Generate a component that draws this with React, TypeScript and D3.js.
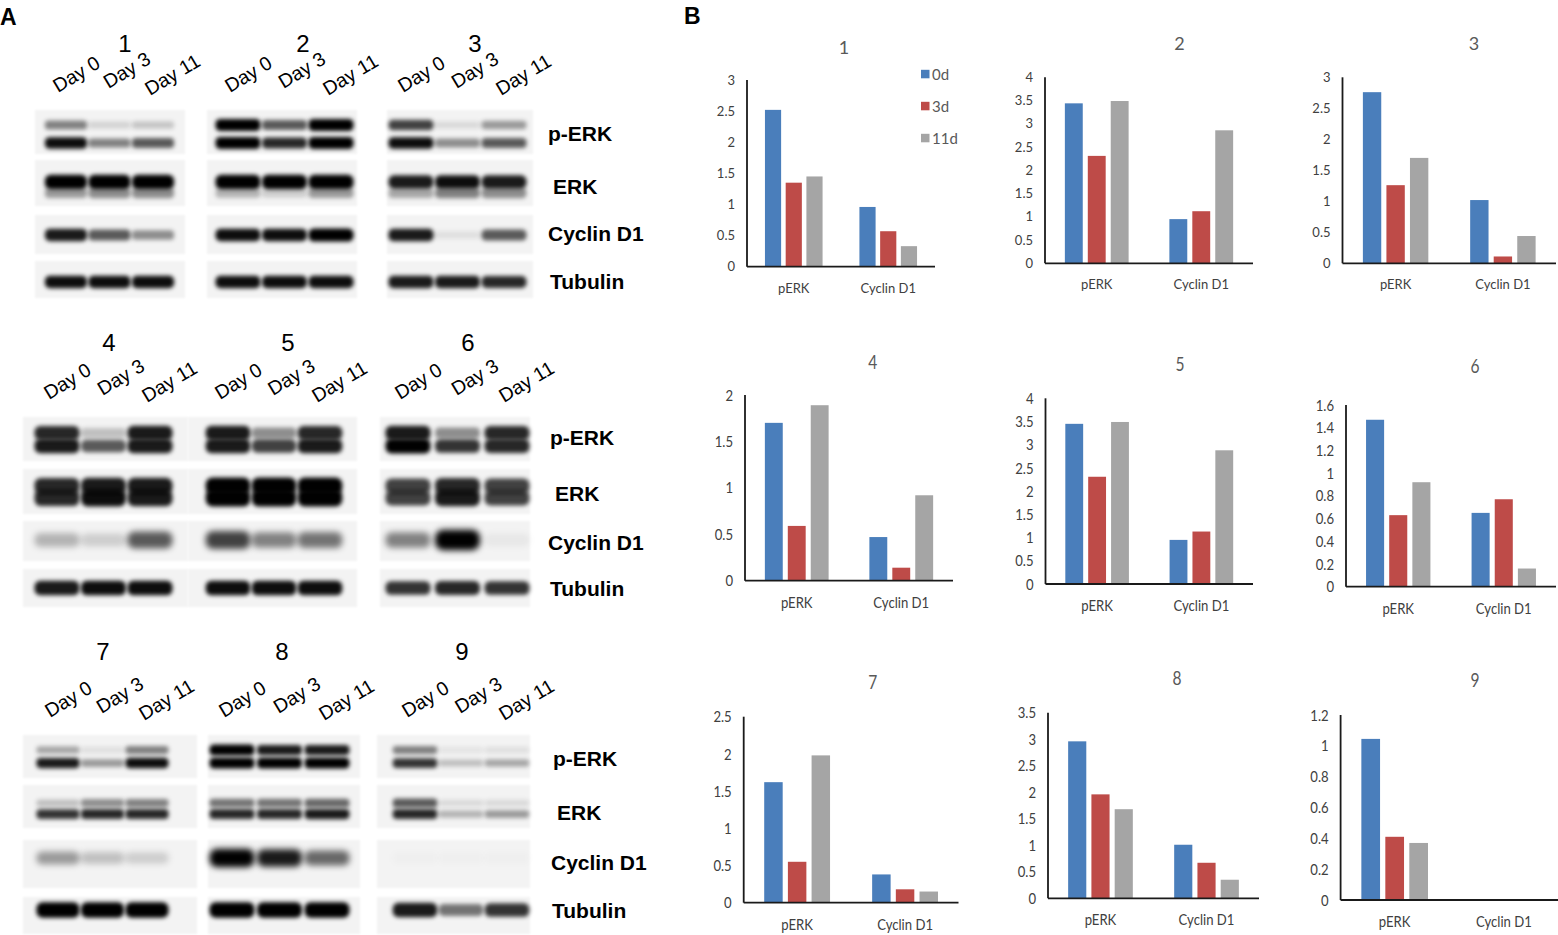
import React from 'react';
import * as d3 from 'd3';

// ---------- panel A : western blots ----------
const groups = ['1', '2', '3', '4', '5', '6', '7', '8', '9'];
const lanes = ['Day 0', 'Day 3', 'Day 11'];
const proteins = ['p-ERK', 'ERK', 'Cyclin D1', 'Tubulin'];

// band darkness 0..1 per group, lanes Day 0 / Day 3 / Day 11
const pErkUpper = [[0.45, 0.12, 0.18], [1, 0.6, 1], [0.7, 0.1, 0.35], [0.8, 0.2, 0.85], [0.85, 0.4, 0.8], [0.85, 0.4, 0.8], [0.3, 0.08, 0.45], [1, 0.85, 0.85], [0.45, 0.06, 0.08]];
const pErkLower = [[0.9, 0.45, 0.6], [1, 0.8, 1], [0.9, 0.4, 0.6], [0.85, 0.6, 0.85], [0.85, 0.7, 0.85], [0.95, 0.75, 0.8], [0.85, 0.35, 0.9], [1, 1, 1], [0.75, 0.2, 0.3]];
const erkUpper = [[1, 1, 1], [1, 1, 1], [0.85, 0.9, 0.85], [0.8, 0.85, 0.85], [0.95, 0.95, 0.95], [0.7, 0.8, 0.7], [0.2, 0.4, 0.45], [0.5, 0.5, 0.55], [0.6, 0.1, 0.1]];
const erkLower = [[0.35, 0.4, 0.4], [0.25, 0.15, 0.35], [0.3, 0.45, 0.4], [0.8, 0.9, 0.85], [0.95, 0.95, 0.95], [0.7, 0.85, 0.7], [0.75, 0.8, 0.8], [0.8, 0.8, 0.85], [0.8, 0.25, 0.35]];
const cyclinD1 = [[0.85, 0.6, 0.4], [0.9, 0.9, 1], [0.85, 0.08, 0.6], [0.25, 0.15, 0.6], [0.7, 0.45, 0.5], [0.45, 0.95, 0.05], [0.35, 0.2, 0.15], [0.95, 0.85, 0.55], [0.02, 0.02, 0.02]];
const tubulin = [[0.9, 0.9, 0.9], [0.9, 0.9, 0.9], [0.85, 0.85, 0.8], [0.85, 0.9, 0.9], [0.9, 0.9, 0.9], [0.75, 0.8, 0.75], [1, 1, 1], [1, 1, 1], [0.85, 0.5, 0.75]];

// ---------- panel B : quantification ----------
const categories = ['pERK', 'Cyclin D1'];
const seriesNames = ['0d', '3d', '11d'];
const seriesColors = ['#4a7ebb', '#be4b48', '#a5a5a5'];
const yMax = [3, 4, 3, 2, 4, 1.6, 2.5, 3.5, 1.2];
const yTickCount = [6, 8, 6, 4, 8, 8, 5, 7, 6];
const values0d = [[2.52, 0.96], [3.44, 0.95], [2.76, 1.02], [1.7, 0.47], [3.45, 0.95], [1.47, 0.65], [1.62, 0.38], [2.96, 1.01], [1.045, 0]];
const values3d = [[1.35, 0.57], [2.31, 1.12], [1.26, 0.11], [0.59, 0.14], [2.31, 1.13], [0.63, 0.77], [0.55, 0.18], [1.96, 0.67], [0.41, 0]];
const values11d = [[1.45, 0.33], [3.49, 2.86], [1.7, 0.44], [1.89, 0.92], [3.49, 2.88], [0.92, 0.16], [1.98, 0.15], [1.68, 0.35], [0.37, 0]];

// ---------- layout ----------
const blotRows = [
  {
    titleY: 43,
    strips: [[110, 154], [160, 206], [215, 254], [261, 298]],
    bandY: [[125, 143], [182, 193], [235], [282]],
    bandH: [11, 13, 12, 12],
    labelX: [548, 553, 548, 550],
    labelY: [133, 186, 233, 281],
    smear: false,
  },
  {
    titleY: 342,
    strips: [[417, 461], [469, 514], [521, 561], [569, 607]],
    bandY: [[433, 446], [486, 498], [540], [588]],
    bandH: [14, 16, 19, 14],
    labelX: [550, 555, 548, 550],
    labelY: [437, 493, 542, 588],
    smear: true,
  },
  {
    titleY: 651,
    strips: [[735, 778], [785, 828], [840, 888], [897, 934]],
    bandY: [[750, 763], [803, 814], [858], [910]],
    bandH: [10, 10, 17, 14],
    labelX: [553, 557, 551, 552],
    labelY: [758, 812, 862, 910],
    smear: true,
  },
];

const blotBoxes = [
  { x0: 35, x1: 185, l0: 66, l2: 153, tx: 125 },
  { x0: 207, x1: 357, l0: 238, l2: 331, tx: 303 },
  { x0: 387, x1: 533, l0: 411, l2: 504, tx: 475 },
  { x0: 23, x1: 188, l0: 57, l2: 150, tx: 109 },
  { x0: 188, x1: 357, l0: 228, l2: 320, tx: 288 },
  { x0: 380, x1: 530, l0: 408, l2: 507, tx: 468 },
  { x0: 23, x1: 197, l0: 58, l2: 147, tx: 103 },
  { x0: 208, x1: 360, l0: 232, l2: 327, tx: 282 },
  { x0: 377, x1: 530, l0: 415, l2: 507, tx: 462 },
];
const laneLabelDx = [-8, -1, -3];
const laneLabelDy = [-17, -21, -14];

const chartBoxes = [
  { x0: 747, x1: 935, top: 80, base: 266.7, tx: 844, ty: 46.7, sx: 1 },
  { x0: 1045, x1: 1253, top: 77.3, base: 263.3, tx: 1179.5, ty: 43, sx: 1 },
  { x0: 1342.5, x1: 1556, top: 77.3, base: 263.3, tx: 1474, ty: 43, sx: 1 },
  { x0: 745, x1: 953, top: 395, base: 580.7, tx: 872.7, ty: 361.7, sx: 0.82 },
  { x0: 1045.5, x1: 1253, top: 398.3, base: 584, tx: 1180, ty: 364, sx: 0.82 },
  { x0: 1346, x1: 1556, top: 405, base: 586.7, tx: 1475, ty: 366, sx: 0.82 },
  { x0: 743.7, x1: 958.5, top: 716.7, base: 902.7, tx: 872.7, ty: 681.7, sx: 0.82 },
  { x0: 1048, x1: 1259, top: 712.7, base: 898.3, tx: 1177, ty: 678, sx: 0.82 },
  { x0: 1340.6, x1: 1558, top: 715, base: 900, tx: 1475, ty: 680, sx: 0.82 },
];

const ARIAL = '"Liberation Sans", Arial, sans-serif';
const CALIBRI = 'Lato, "Open Sans", sans-serif';

function Blot({ gi }: { gi: number }) {
  const row = blotRows[Math.floor(gi / 3)];
  const box = blotBoxes[gi];
  const lane = d3.scalePoint<string>().domain(lanes).range([box.l0, box.l2]);
  const bw = Math.min(45, lane.step() * 0.97);
  const levels = [
    [pErkUpper[gi], pErkLower[gi]],
    [erkUpper[gi], erkLower[gi]],
    [cyclinD1[gi]],
    [tubulin[gi]],
  ];

  return (
    <g>
      <text x={box.tx} y={row.titleY} fontFamily={ARIAL} fontSize={24} textAnchor="middle" dominantBaseline="central">
        {groups[gi]}
      </text>
      {lanes.map((l, k) => (
        <text
          key={l}
          transform={`translate(${lane(l)! + laneLabelDx[k]},${row.strips[0][0] + laneLabelDy[k]}) rotate(-31)`}
          fontFamily={ARIAL}
          fontSize={19.5}
        >
          {l}
        </text>
      ))}
      {proteins.map((p, pi) => {
        const [s0, s1] = row.strips[pi];
        const blurId = pi === 2 && row.smear ? 'url(#smear)' : 'url(#soft)';
        return (
          <g key={p}>
            <rect x={box.x0} y={s0} width={box.x1 - box.x0} height={s1 - s0} fill="#f3f3f3" filter="url(#edge)" />
            {levels[pi].map((lv, bi) =>
              lanes.map((l, k) => {
                const h = row.bandH[pi] * (0.6 + 0.5 * lv[k]);
                return (
                  <rect
                    key={`${bi}-${l}`}
                    x={lane(l)! - bw / 2}
                    y={row.bandY[pi][bi] - h / 2}
                    width={bw}
                    height={h}
                    rx={h / 2.5}
                    fill="#050505"
                    fillOpacity={Math.min(1, lv[k] * 1.05)}
                    filter={blurId}
                  />
                );
              })
            )}
          </g>
        );
      })}
      {gi % 3 === 2 &&
        proteins.map((p, pi) => (
          <text
            key={p}
            x={row.labelX[pi]}
            y={row.labelY[pi]}
            fontFamily={ARIAL}
            fontWeight="bold"
            fontSize={21}
            dominantBaseline="central"
          >
            {p}
          </text>
        ))}
    </g>
  );
}

function BarChart({ ci }: { ci: number }) {
  const L = chartBoxes[ci];
  const x = d3.scaleBand<string>().domain(categories).range([L.x0, L.x1]).paddingInner(0.39).paddingOuter(0.19);
  const xs = d3.scaleBand<string>().domain(seriesNames).range([0, x.bandwidth()]).paddingInner(0.22);
  const y = d3.scaleLinear().domain([0, yMax[ci]]).range([L.base, L.top]);
  const ticks = y.ticks(yTickCount[ci]);
  const vals = [values0d[ci], values3d[ci], values11d[ci]];
  const fs = L.sx === 1 ? 13 : 16;

  return (
    <g fontFamily={CALIBRI}>
      <text
        transform={`translate(${L.tx},${L.ty}) scale(${L.sx},1)`}
        fontSize={L.sx === 1 ? 18 : 19}
        fill="#595959"
        textAnchor="middle"
        dominantBaseline="central"
      >
        {ci + 1}
      </text>
      {ticks.map((t) => (
        <text
          key={t}
          transform={`translate(${L.x0 - 12},${y(t)}) scale(${L.sx},1)`}
          fontSize={fs}
          fill="#404040"
          textAnchor="end"
          dy="0.35em"
        >
          {String(t)}
        </text>
      ))}
      {categories.map((c, k) =>
        seriesNames.map((s, si) => (
          <rect
            key={`${c}-${s}`}
            x={x(c)! + xs(s)!}
            y={y(vals[si][k])}
            width={xs.bandwidth()}
            height={L.base - y(vals[si][k])}
            fill={seriesColors[si]}
          />
        ))
      )}
      <line x1={L.x0} x2={L.x0} y1={L.top} y2={L.base} stroke="#1a1a1a" strokeWidth={1.8} />
      <line x1={L.x0} x2={L.x1} y1={L.base} y2={L.base} stroke="#1a1a1a" strokeWidth={1.8} />
      {categories.map((c) => (
        <text
          key={c}
          transform={`translate(${x(c)! + x.bandwidth() / 2},${L.base + 21}) scale(${L.sx},1)`}
          fontSize={fs}
          fill="#404040"
          textAnchor="middle"
          dominantBaseline="central"
        >
          {c}
        </text>
      ))}
      {ci === 0 &&
        seriesNames.map((s, si) => (
          <g key={s} transform={`translate(921,${74 + si * 32})`}>
            <rect x={0} y={-4.2} width={8.5} height={8.5} fill={seriesColors[si]} />
            <text x={11} y={0} fontSize={15} fill="#595959" dominantBaseline="central">
              {s}
            </text>
          </g>
        ))}
    </g>
  );
}

export default function App() {
  return (
    <div style={{ position: 'absolute', left: 0, top: 0 }}>
      <svg width={1558} height={935} style={{ display: 'block', background: '#fff' }}>
        <defs>
          <filter id="soft" x="-20%" y="-200%" width="140%" height="500%">
            <feGaussianBlur stdDeviation="1.9" />
          </filter>
          <filter id="smear" x="-30%" y="-200%" width="160%" height="500%">
            <feGaussianBlur stdDeviation="3.2" />
          </filter>
          <filter id="edge" x="-5%" y="-20%" width="110%" height="140%">
            <feGaussianBlur stdDeviation="0.8" />
          </filter>
        </defs>
        <text x={0} y={25} fontFamily={ARIAL} fontWeight="bold" fontSize={23}>A</text>
        <text x={684} y={24} fontFamily={ARIAL} fontWeight="bold" fontSize={23}>B</text>
        {groups.map((g, gi) => (
          <Blot key={g} gi={gi} />
        ))}
        {chartBoxes.map((_, ci) => (
          <BarChart key={ci} ci={ci} />
        ))}
      </svg>
    </div>
  );
}
